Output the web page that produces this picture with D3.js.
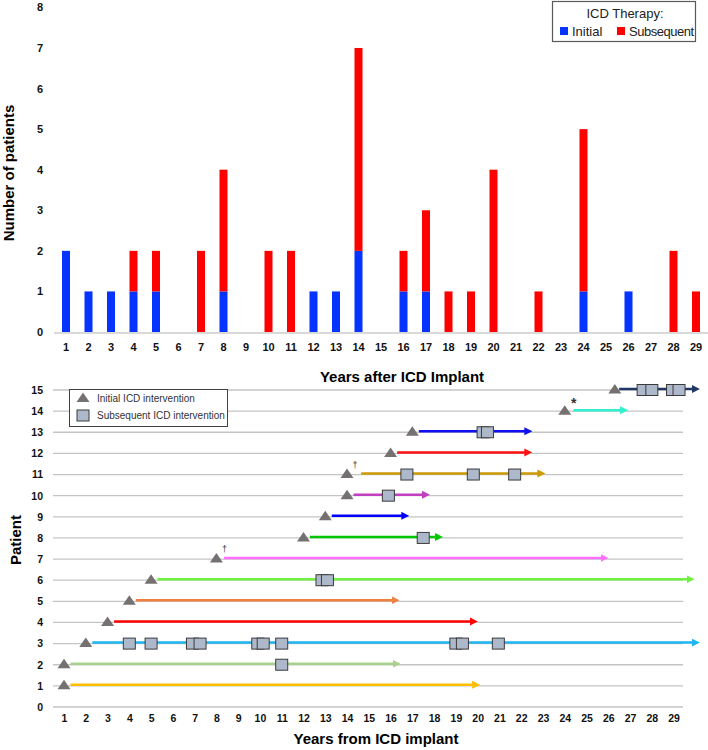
<!DOCTYPE html>
<html>
<head>
<meta charset="utf-8">
<script src="https://cdn.jsdelivr.net/npm/d3@7"></script>
<style>
  body { margin: 0; background: #fff; }
  svg { display: block; font-family: "Liberation Sans", Arial, sans-serif; }
</style>
</head>
<body>
<svg id="chart" width="708" height="750"></svg>
<script>
// ---- data: top panel (patients per year after implant) ----
const years = [1,2,3,4,5,6,7,8,9,10,11,12,13,14,15,16,17,18,19,20,21,22,23,24,25,26,27,28,29];
const initialCounts    = [2,1,1,1,1,0,0,1,0,0,0,1,1,2,0,1,1,0,0,0,0,0,0,1,0,1,0,0,0];
const subsequentCounts = [0,0,0,1,1,0,2,3,0,2,2,0,0,5,0,1,2,1,1,4,0,1,0,4,0,0,0,2,1];
const countTicks = [0,1,2,3,4,5,6,7,8];

// ---- data: bottom panel (swimmer plot) ----
const patients = [1,2,3,4,5,6,7,8,9,10,11,12,13,14,15];
const initialYears = [1, 1, 2, 3, 4, 5, 8, 12, 13, 14, 14, 16, 17, 24, 26.3];
const lineStarts   = [1.3, 1.3, 2.3, 3.3, 4.3, 5.3, 8.35, 12.3, 13.3, 14.3, 14.65, 16.3, 17.3, 24.4, 26.5];
const lineEnds     = [20.0, 16.35, 30.1, 19.9, 16.3, 29.85, 25.9, 18.3, 16.75, 17.7, 23.0, 22.4, 22.4, 26.8, 30.1];
const subsequentYears = [
  [], [11], [4, 5, 6.9, 7.25, 9.9, 10.15, 11, 19, 19.3, 20.95], [], [], [12.85, 13.1], [],
  [17.5], [], [15.9], [16.75, 19.8, 21.7], [], [20.25, 20.45], [], [27.6, 28.0, 28.95, 29.25]
];
const notes = ["", "", "", "", "", "", "†", "", "", "", "†", "", "", "*", ""];
const patientTicks = [0,1,2,3,4,5,6,7,8,9,10,11,12,13,14,15];
const yearTicks = [1,2,3,4,5,6,7,8,9,10,11,12,13,14,15,16,17,18,19,20,21,22,23,24,25,26,27,28,29];

// line colours per patient
const lineColors = ["#ffc000", "#a9d18e", "#1fb4f0", "#ff0000", "#f08040", "#70f040", "#ff70ff",
  "#00c800", "#0000ff", "#c040c0", "#cc9a06", "#ff1010", "#1010f0", "#30f0d0", "#1f3864"];

const svg = d3.select("#chart");

// ================= top: stacked bars =================
const x = d3.scaleBand()
  .domain(years)
  .range([54.75, 707.25])
  .paddingInner(0.644)
  .paddingOuter(0.322);
const y = d3.scaleLinear().domain([0, 8]).range([332, 7.4]);

const table = years.map((yr, i) => ({ year: yr, initial: initialCounts[i], subsequent: subsequentCounts[i] }));
const stacked = d3.stack().keys(["initial", "subsequent"])(table);
const barColors = { initial: "#0533ff", subsequent: "#ff0000" };

// baseline
svg.append("line")
  .attr("x1", 54).attr("x2", 708)
  .attr("y1", y(0) + 1).attr("y2", y(0) + 1)
  .attr("stroke", "#d9d9d9").attr("stroke-width", 2);

svg.append("g").selectAll("g")
  .data(stacked)
  .enter().append("g")
  .attr("fill", d => barColors[d.key])
  .selectAll("rect")
  .data(d => d.filter(s => s[1] > s[0]))
  .enter().append("rect")
  .attr("x", d => x(d.data.year))
  .attr("width", x.bandwidth())
  .attr("y", d => y(d[1]))
  .attr("height", d => y(d[0]) - y(d[1]));

// axes
const topX = svg.append("g")
  .attr("transform", "translate(0," + y(0) + ")")
  .call(d3.axisBottom(x).tickSize(0).tickPadding(11));
topX.select(".domain").remove();
topX.selectAll("text").attr("font-size", 11).attr("font-weight", "bold").attr("fill", "#111");

const topY = svg.append("g")
  .attr("transform", "translate(54,0)")
  .call(d3.axisLeft(y).tickValues(countTicks).tickSize(0).tickPadding(11));
topY.select(".domain").remove();
topY.selectAll("text").attr("font-size", 11).attr("font-weight", "bold").attr("fill", "#111");

svg.append("text")
  .attr("transform", "translate(14,173) rotate(-90)")
  .attr("text-anchor", "middle")
  .attr("font-size", 15).attr("font-weight", "bold")
  .text("Number of patients");

svg.append("text")
  .attr("x", 402).attr("y", 382)
  .attr("text-anchor", "middle")
  .attr("font-size", 15).attr("font-weight", "bold")
  .text("Years after ICD Implant");

// legend (top)
const lg = svg.append("g");
lg.append("rect").attr("x", 552.5).attr("y", 1.5).attr("width", 143).attr("height", 40)
  .attr("fill", "#fff").attr("stroke", "#595959").attr("stroke-width", 1.2);
lg.append("text").attr("x", 625).attr("y", 18).attr("text-anchor", "middle")
  .attr("font-size", 13).attr("fill", "#222").text("ICD Therapy:");
lg.append("rect").attr("x", 560).attr("y", 27).attr("width", 8).attr("height", 8).attr("fill", barColors.initial);
lg.append("text").attr("x", 572).attr("y", 35.5).attr("font-size", 13).attr("fill", "#222").text("Initial");
lg.append("rect").attr("x", 617).attr("y", 27).attr("width", 8).attr("height", 8).attr("fill", barColors.subsequent);
lg.append("text").attr("x", 629).attr("y", 35.5).attr("font-size", 13).attr("fill", "#222")
  .attr("textLength", 65).text("Subsequent");

// ================= bottom: swimmer plot =================
const sx = d3.scaleLinear().domain([1, 29]).range([64, 673.6]);
const sy = d3.scaleLinear().domain([0, 15]).range([707, 390]);

// gridlines
svg.append("g").selectAll("line")
  .data(patientTicks)
  .enter().append("line")
  .attr("x1", 53).attr("x2", 683)
  .attr("y1", d => sy(d)).attr("y2", d => sy(d))
  .attr("stroke", "#c4c4c4").attr("stroke-width", 1.3);

const botX = svg.append("g")
  .attr("transform", "translate(0," + sy(0) + ")")
  .call(d3.axisBottom(sx).tickValues(yearTicks).tickFormat(d3.format("d")).tickSize(0).tickPadding(8));
botX.select(".domain").remove();
botX.selectAll("text").attr("font-size", 10.5).attr("font-weight", "bold").attr("fill", "#111");

const botY = svg.append("g")
  .attr("transform", "translate(53,0)")
  .call(d3.axisLeft(sy).tickValues(patientTicks).tickSize(0).tickPadding(10));
botY.select(".domain").remove();
botY.selectAll("text").attr("font-size", 10.5).attr("font-weight", "bold").attr("fill", "#111");

svg.append("text")
  .attr("transform", "translate(21,540) rotate(-90)")
  .attr("text-anchor", "middle")
  .attr("font-size", 15).attr("font-weight", "bold")
  .text("Patient");

svg.append("text")
  .attr("x", 376).attr("y", 744)
  .attr("text-anchor", "middle")
  .attr("font-size", 15).attr("font-weight", "bold")
  .text("Years from ICD implant");

// arrow markers, one per colour
const defs = svg.append("defs");
lineColors.forEach((c, i) => {
  defs.append("marker")
    .attr("id", "arrow" + i)
    .attr("viewBox", "0 0 10 10")
    .attr("refX", 2).attr("refY", 5)
    .attr("markerUnits", "userSpaceOnUse")
    .attr("markerWidth", 8).attr("markerHeight", 9)
    .attr("orient", "auto")
    .append("path").attr("d", "M0,0 L10,5 L0,10 Z").attr("fill", c);
});

const rows = patients.map((p, i) => ({
  p, i, start: initialYears[i], from: lineStarts[i], to: lineEnds[i],
  subs: subsequentYears[i], note: notes[i]
}));

// lines
svg.append("g").selectAll("line")
  .data(rows)
  .enter().append("line")
  .attr("x1", d => sx(d.from))
  .attr("x2", d => sx(d.to) - 4)
  .attr("y1", d => sy(d.p) - 1).attr("y2", d => sy(d.p) - 1)
  .attr("stroke", d => lineColors[d.i])
  .attr("stroke-width", 2.5)
  .attr("marker-end", d => "url(#arrow" + d.i + ")");

// initial ICD intervention triangles
const triPath = "M0,-5.5 L6.5,4 L-6.5,4 Z";
svg.append("g").selectAll("path")
  .data(rows)
  .enter().append("path")
  .attr("transform", d => "translate(" + sx(d.start) + "," + (sy(d.p) - 0.5) + ")")
  .attr("d", triPath)
  .attr("fill", "#767171");

// subsequent interventions squares
const subs = rows.flatMap(d => d.subs.map(v => ({ p: d.p, v })));
svg.append("g").selectAll("rect")
  .data(subs)
  .enter().append("rect")
  .attr("x", d => sx(d.v) - 6)
  .attr("y", d => sy(d.p) - 5.5)
  .attr("width", 12).attr("height", 11)
  .attr("fill", "#adb9ca")
  .attr("stroke", "#3b3b3b").attr("stroke-width", 1);

// notes († / *)
svg.append("g").selectAll("text")
  .data(rows.filter(d => d.note))
  .enter().append("text")
  .attr("x", d => sx(d.start) + (d.note === "*" ? 9 : 8))
  .attr("y", d => sy(d.p) - (d.note === "*" ? 3 : 7))
  .attr("text-anchor", "middle")
  .attr("font-size", d => d.note === "*" ? 14 : 9)
  .attr("font-weight", d => d.note === "*" ? "bold" : "normal")
  .attr("fill", "#333")
  .text(d => d.note);

// legend (bottom)
const lb = svg.append("g");
lb.append("rect").attr("x", 69.5).attr("y", 389.5).attr("width", 158).attr("height", 37)
  .attr("fill", "#fff").attr("stroke", "#404040").attr("stroke-width", 1);
lb.append("path").attr("transform", "translate(83,398)").attr("d", triPath).attr("fill", "#767171");
lb.append("text").attr("x", 97).attr("y", 402).attr("font-size", 10).attr("fill", "#333")
  .text("Initial ICD intervention");
lb.append("rect").attr("x", 77).attr("y", 410).attr("width", 12).attr("height", 11)
  .attr("fill", "#adb9ca").attr("stroke", "#3b3b3b");
lb.append("text").attr("x", 97).attr("y", 419).attr("font-size", 10).attr("fill", "#333")
  .text("Subsequent  ICD intervention");
</script>
</body>
</html>
